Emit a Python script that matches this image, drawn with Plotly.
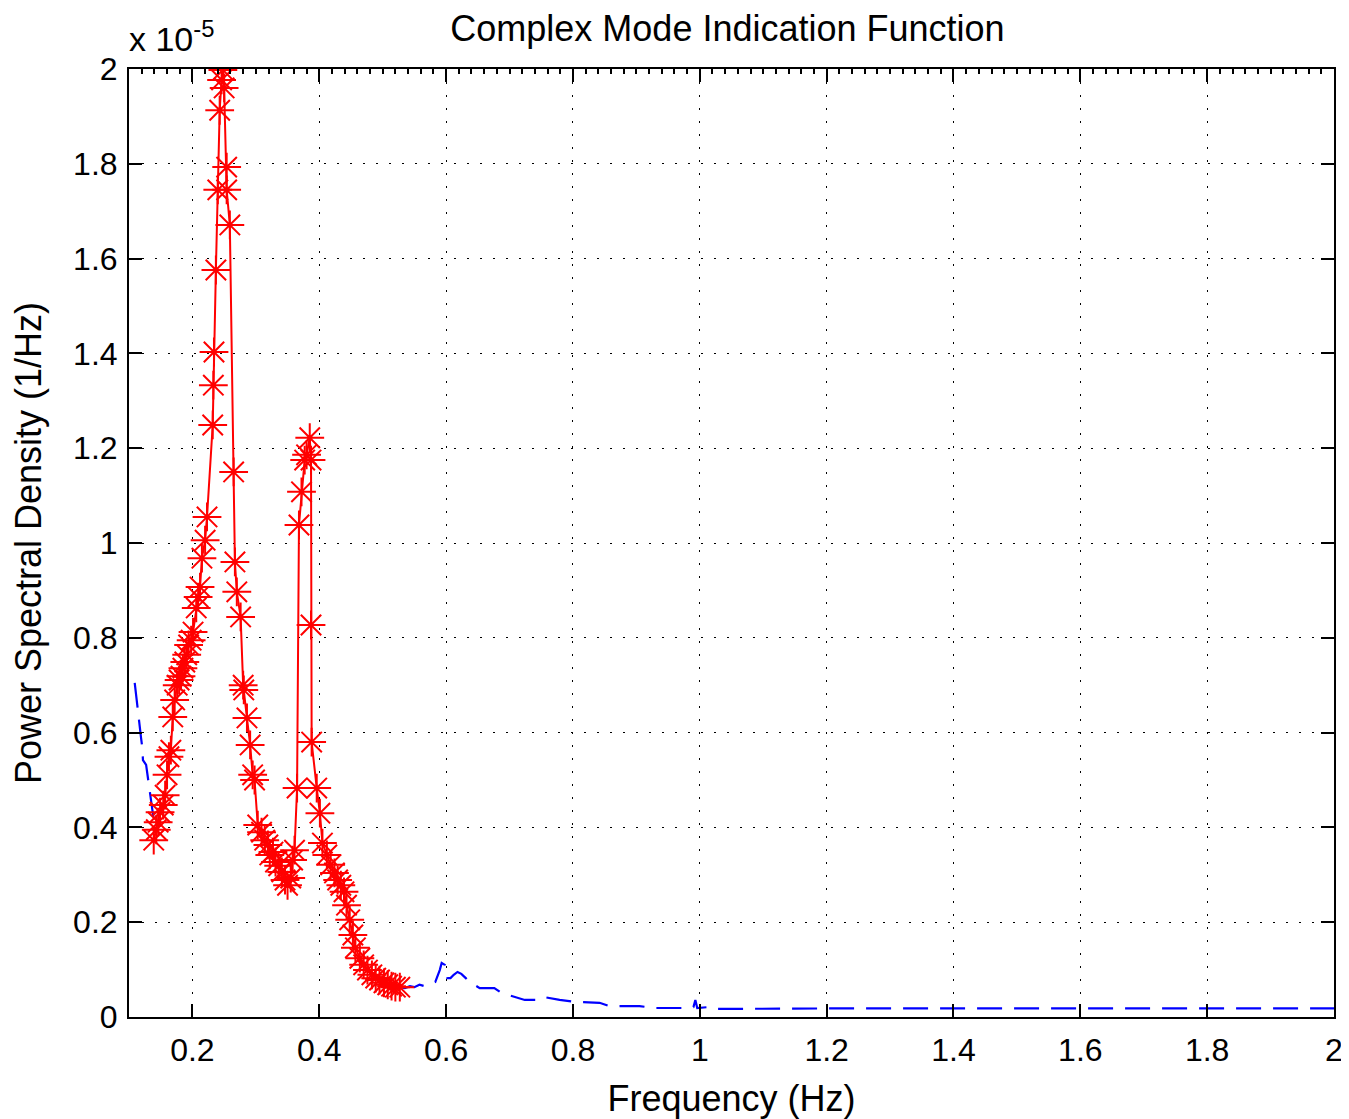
import plotly.graph_objects as go

# Frequency (Hz) and PSD (units of 1e-5 1/Hz) for the selected (red) band
red_freq = [0.139, 0.143, 0.146, 0.149, 0.154, 0.157, 0.160, 0.163, 0.166, 0.169,
            0.172, 0.176, 0.179, 0.182, 0.185, 0.188, 0.191, 0.194, 0.198, 0.201,
            0.206, 0.209, 0.212, 0.215, 0.220, 0.223, 0.232, 0.233, 0.234, 0.237,
            0.240, 0.243, 0.246, 0.248, 0.250, 0.254, 0.254, 0.259, 0.265, 0.267,
            0.270, 0.276, 0.280, 0.281, 0.286, 0.291, 0.295, 0.298, 0.303, 0.309,
            0.314, 0.319, 0.322, 0.327, 0.331, 0.336, 0.341, 0.346, 0.350, 0.355,
            0.358, 0.361, 0.365, 0.368, 0.372, 0.377, 0.380, 0.385, 0.387, 0.387,
            0.388, 0.396, 0.401, 0.405, 0.412, 0.418, 0.424, 0.429, 0.434, 0.439,
            0.443, 0.448, 0.453, 0.457, 0.464, 0.470, 0.476, 0.483, 0.489, 0.495,
            0.502, 0.508, 0.514, 0.520, 0.527]
red_psd = [0.373, 0.395, 0.411, 0.432, 0.447, 0.468, 0.511, 0.549, 0.563, 0.633,
           0.669, 0.700, 0.711, 0.719, 0.736, 0.749, 0.764, 0.785, 0.795, 0.812,
           0.863, 0.886, 0.907, 0.968, 1.006, 1.055, 1.249, 1.333, 1.403, 1.576,
           1.745, 1.913, 1.977, 1.998, 1.960, 1.793, 1.745, 1.671, 1.150, 0.960,
           0.897, 0.844, 0.700, 0.690, 0.631, 0.574, 0.511, 0.500, 0.405, 0.390,
           0.373, 0.363, 0.342, 0.348, 0.327, 0.319, 0.306, 0.289, 0.278, 0.293,
           0.331, 0.352, 0.483, 1.038, 1.108, 1.175, 1.186, 1.222, 1.175, 0.827,
           0.580, 0.483, 0.430, 0.367, 0.342, 0.321, 0.304, 0.289, 0.278, 0.264,
           0.236, 0.205, 0.173, 0.146, 0.124, 0.110, 0.099, 0.089, 0.082, 0.078,
           0.072, 0.068, 0.065, 0.063, 0.063]

# Remaining (blue dashed) part of the CMIF curve
blue_low_freq = [0.109, 0.111, 0.114, 0.116, 0.119, 0.121, 0.122, 0.127, 0.130,
                 0.133, 0.136, 0.139]
blue_low_psd = [0.705, 0.679, 0.643, 0.616, 0.589, 0.568, 0.542, 0.532, 0.504,
                0.468, 0.441, 0.416]
blue_high_freq = [0.527, 0.535, 0.543, 0.550, 0.558, 0.566, 0.574, 0.583, 0.590,
                  0.593, 0.598, 0.602, 0.607, 0.612, 0.618, 0.624, 0.631, 0.637,
                  0.653, 0.676, 0.687, 0.703, 0.724, 0.747, 0.755, 0.779, 0.802,
                  0.842, 0.857, 0.905, 0.928, 0.983, 0.990, 0.993, 0.996, 1.015,
                  1.023, 1.2, 1.5, 1.8, 2.0]
blue_high_psd = [0.063, 0.061, 0.065, 0.063, 0.068, 0.065, 0.070, 0.074, 0.099,
                 0.114, 0.110, 0.082, 0.082, 0.089, 0.095, 0.091, 0.082, 0.074,
                 0.061, 0.061, 0.051, 0.044, 0.036, 0.036, 0.042, 0.036, 0.032,
                 0.030, 0.023, 0.023, 0.019, 0.019, 0.021, 0.036, 0.019, 0.021,
                 0.017, 0.018, 0.018, 0.018, 0.018]

x_ticks = [0.2, 0.4, 0.6, 0.8, 1.0, 1.2, 1.4, 1.6, 1.8, 2.0]
x_tick_labels = ["0.2", "0.4", "0.6", "0.8", "1", "1.2", "1.4", "1.6", "1.8", "2"]
y_ticks = [0, 0.2, 0.4, 0.6, 0.8, 1.0, 1.2, 1.4, 1.6, 1.8, 2.0]
y_tick_labels = ["0", "0.2", "0.4", "0.6", "0.8", "1", "1.2", "1.4", "1.6", "1.8", "2"]

FONT = "Liberation Sans, Arial, Helvetica, sans-serif"
TICK_FS = 32
TITLE_FS = 36

fig = go.Figure()
fig.add_trace(go.Scatter(
    x=blue_low_freq + [None] + blue_high_freq,
    y=blue_low_psd + [None] + blue_high_psd,
    mode="lines", line=dict(color="#0000ff", width=2.2, dash="25px,12px"),
    showlegend=False, hoverinfo="skip", connectgaps=False))
fig.add_trace(go.Scatter(
    x=red_freq, y=red_psd, mode="lines+markers",
    line=dict(color="#ff0000", width=2),
    marker=dict(symbol="asterisk-open", size=24, color="#ff0000",
                line=dict(color="#ff0000", width=2)),
    showlegend=False))
# helper trace for top minor ticks
fig.add_trace(go.Scatter(x=[0.1, 2.0], y=[None, None], xaxis="x2", showlegend=False,
                         hoverinfo="skip", mode="lines"))

# page body has an 8px margin, so the figure is 1341x1111 and margins compensate
fig.update_layout(
    width=1341, height=1111,
    margin=dict(l=121, r=15, t=61, b=102),
    paper_bgcolor="white", plot_bgcolor="white",
    font=dict(family=FONT, size=TICK_FS, color="black"),
    title=dict(text="Complex Mode Indication Function", x=0.5365, xanchor="center",
               y=0.982, yanchor="middle", font=dict(size=TITLE_FS)),
    xaxis=dict(range=[0.1, 2.0], tickvals=x_ticks, ticktext=x_tick_labels,
               showgrid=True, gridcolor="black", gridwidth=1, griddash="2px,11px",
               zeroline=False, showline=True, linecolor="black", linewidth=2,
               mirror="ticks", ticks="inside", ticklen=13, tickwidth=2,
               tickcolor="black", automargin=False, ticklabelstandoff=4,
               tickfont=dict(size=TICK_FS),
               title=dict(text="Frequency (Hz)", standoff=26,
                          font=dict(size=TITLE_FS))),
    xaxis2=dict(range=[0.1, 2.0], overlaying="x", side="top", anchor="y",
                dtick=0.02, tick0=0, ticks="inside", ticklen=5, tickwidth=2,
                tickcolor="black", showticklabels=False, showgrid=False,
                zeroline=False, showline=False, automargin=False),
    yaxis=dict(range=[0, 2.0], tickvals=y_ticks, ticktext=y_tick_labels,
               showgrid=True, gridcolor="black", gridwidth=1, griddash="2px,11px",
               zeroline=False, showline=True, linecolor="black", linewidth=2,
               mirror="ticks", ticks="inside", ticklen=13, tickwidth=2,
               tickcolor="black", automargin=False, ticklabelstandoff=3,
               tickfont=dict(size=TICK_FS),
               title=dict(text="Power Spectral Density (1/Hz)", standoff=21,
                          font=dict(size=TITLE_FS))),
)
fig.add_annotation(text="x 10<sup>-5</sup>", xref="paper", yref="paper",
                   x=0, y=1, xanchor="left", yanchor="bottom", yshift=9, xshift=-2,
                   showarrow=False, font=dict(size=34))

fig.write_html("out.html")
